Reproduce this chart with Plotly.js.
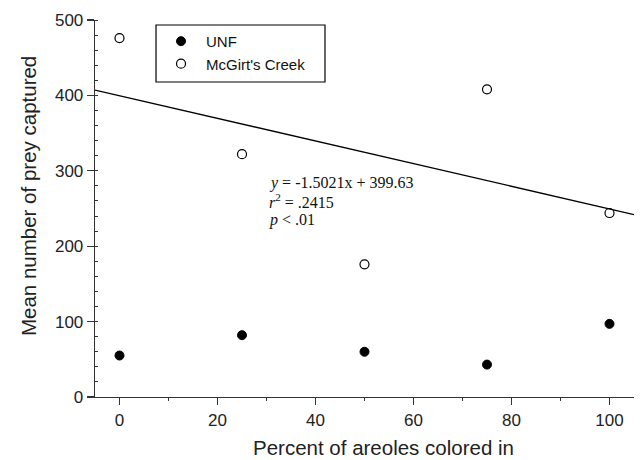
<!DOCTYPE html>
<html>
<head>
<meta charset="utf-8">
<script src="https://cdn.plot.ly/plotly-3.0.1.min.js"></script>
<style>html,body{margin:0;padding:0;background:#fff;}#chart{width:640px;height:460px;}</style>
</head>
<body>
<div id="chart"></div>
<script>
var percentColored = [0, 25, 50, 75, 100];
var unfValues = [55, 82, 60, 43, 97];
var mcgirtValues = [476, 322, 176, 408, 244];
var fitSlope = -1.5021;
var fitIntercept = 399.63;
var xRange = [-5, 105];
var yRange = [0, 500];
var statLines = ['<i>y</i> = -1.5021x + 399.63', '<i>r</i><sup>2</sup> = .2415', '<i>p</i> &lt; .01'];

var fitX = xRange.slice();
var fitY = fitX.map(function (x) { return fitSlope * x + fitIntercept; });

var traces = [
  {
    x: percentColored, y: unfValues, name: 'UNF', type: 'scatter', mode: 'markers',
    marker: {symbol: 'circle', size: 9, color: '#000', line: {color: '#000', width: 1}},
    cliponaxis: false
  },
  {
    x: percentColored, y: mcgirtValues, name: "McGirt's Creek", type: 'scatter', mode: 'markers',
    marker: {symbol: 'circle-open', size: 9, color: '#000', line: {color: '#000', width: 1.2}},
    cliponaxis: false
  },
  {
    x: fitX, y: fitY, type: 'scatter', mode: 'lines', showlegend: false,
    line: {color: '#000', width: 1.3}, hoverinfo: 'skip'
  }
];

var serif = 'Liberation Serif, Times New Roman, serif';
var statY = [284, 260, 235];
var annotations = statLines.map(function (t, i) {
  return {
    xref: 'x', yref: 'y', x: 30.2, y: statY[i], xanchor: 'left', yanchor: 'middle', align: 'left',
    showarrow: false, font: {family: serif, size: 16, color: '#111'}, text: t
  };
});
annotations.push({
  xref: 'paper', yref: 'paper', x: 0.535, y: -0.135, xanchor: 'center', yanchor: 'middle',
  showarrow: false, font: {size: 20.5, color: '#222'}, text: 'Percent of areoles colored in'
});
annotations.push({
  xref: 'paper', yref: 'paper', x: -0.1243, y: 0.533, xanchor: 'center', yanchor: 'middle',
  textangle: -90, showarrow: false, font: {size: 20.5, color: '#222'}, text: 'Mean number of prey captured'
});

var layout = {
  width: 640, height: 460,
  margin: {l: 95, r: 6, t: 20, b: 63},
  paper_bgcolor: '#fff', plot_bgcolor: '#fff',
  font: {family: 'Liberation Sans, Arial, sans-serif', color: '#222'},
  showlegend: true,
  legend: {
    x: 0.1132, y: 0.987, xanchor: 'left', yanchor: 'top',
    borderwidth: 0, bgcolor: 'rgba(0,0,0,0)',
    font: {size: 15, color: '#111'}, itemwidth: 40,
    traceorder: 'normal'
  },
  shapes: [
    {type: 'rect', xref: 'paper', yref: 'paper', x0: 0.1132, x1: 0.4267, y0: 0.8355, y1: 0.9867,
     line: {color: '#000', width: 1.2}, fillcolor: 'rgba(0,0,0,0)', layer: 'above'}
  ],
  xaxis: {
    range: xRange, showgrid: false, zeroline: false,
    showline: true, linecolor: '#333', linewidth: 1.3,
    ticks: 'outside', ticklen: 7, tickcolor: '#333', tickwidth: 1.2,
    tick0: 0, dtick: 20,
    tickfont: {size: 17, color: '#222'},
    minor: {ticks: 'outside', ticklen: 3, tickcolor: '#333', tickwidth: 1, dtick: 10, tick0: 0}
  },
  yaxis: {
    range: yRange, showgrid: false, zeroline: false,
    showline: true, linecolor: '#333', linewidth: 1.3,
    ticks: 'outside', ticklen: 7, tickcolor: '#333', tickwidth: 1.2,
    tick0: 0, dtick: 100,
    tickfont: {size: 17, color: '#222'},
    minor: {ticks: 'inside', ticklen: 3, tickcolor: '#333', tickwidth: 1, dtick: 20, tick0: 0}
  },
  annotations: annotations
};

Plotly.newPlot('chart', traces, layout, {staticPlot: true, displayModeBar: false});
</script>
</body>
</html>
